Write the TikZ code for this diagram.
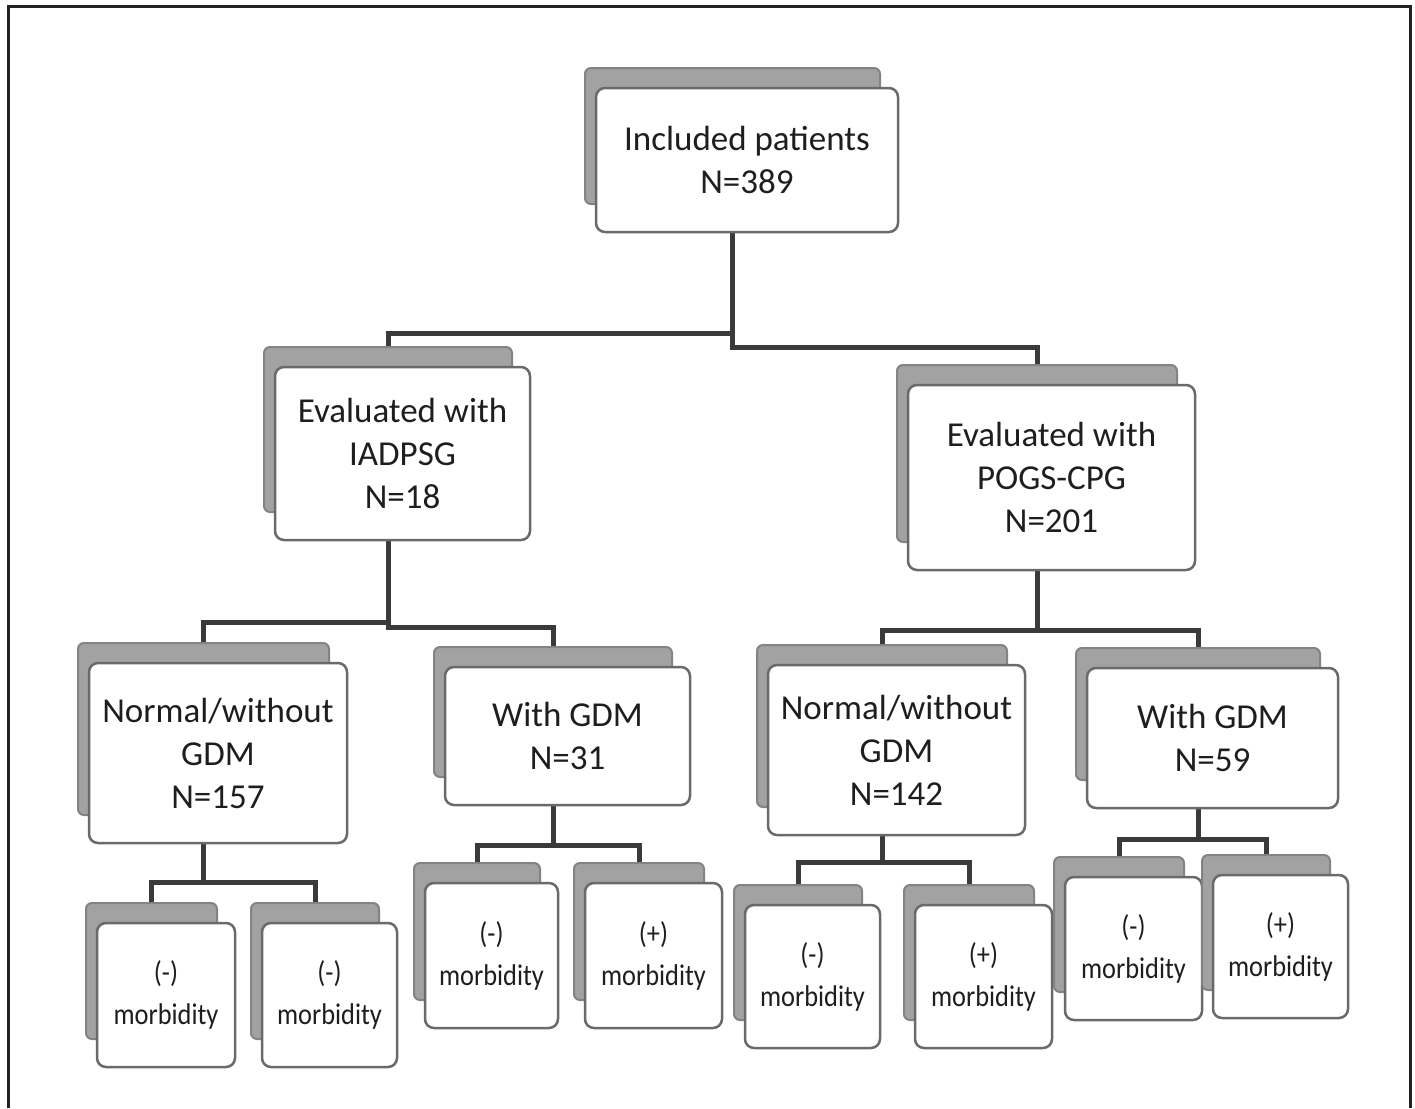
\documentclass[tikz,border=0pt]{standalone}
\usepackage{fontspec}
\setmainfont{Carlito}
\newfontfamily\narrowfont[FakeStretch=0.88]{Carlito}
\pgfdeclarelayer{bg}
\pgfsetlayers{bg,main}
\definecolor{conncol}{HTML}{3A3A3A}
\definecolor{shadefill}{HTML}{A2A2A2}
\definecolor{shadedraw}{HTML}{838383}
\definecolor{frontdraw}{HTML}{6A6A6A}
\definecolor{txt}{HTML}{1E1E1E}
\definecolor{framecol}{HTML}{222222}
\tikzset{
  shadowbox/.style={fill=shadefill, draw=shadedraw, line width=2pt, rounded corners=6pt, inner sep=0pt, outer sep=0pt},
  frontbox/.style={fill=white, draw=frontdraw, line width=2.5pt, rounded corners=9pt, inner sep=0pt, outer sep=0pt, align=center, text=txt},
  bigtext/.style={font=\fontsize{35}{43}\selectfont},
  smalltext/.style={font=\narrowfont\fontsize{30}{42}\selectfont},
  conn/.style={draw=conncol, line width=5pt, line cap=rect},
  outerframe/.style={draw=framecol, line width=3pt}
}
\newcommand{\stackbox}[7]{%
  \node[shadowbox, anchor=north west, minimum width={#4-#2-7}, minimum height={#5-#3-8}] (s-#1) at ({#2-11},{#3-20}) {};
  \node[frontbox, #7, anchor=north west, minimum width={#4-#2}, minimum height={#5-#3}] (#1) at (#2,#3) {#6};
}
\begin{document}
\begin{tikzpicture}[x=1pt, y=-1pt]
\useasboundingbox (0,0) rectangle (1415,1108);
\draw[outerframe] (8,1108) -- (8,7) -- (1410,7) -- (1410,1108);

\stackbox{top}{596}{88}{898}{232}{Included patients\\N=389}{bigtext}
\stackbox{iad}{275}{367}{530}{540}{Evaluated with\\IADPSG\\N=18}{bigtext}
\stackbox{pogs}{908}{385}{1195}{570}{Evaluated with\\POGS-CPG\\N=201}{bigtext}
\stackbox{nl}{89}{663}{347}{843}{Normal/without\\GDM\\N=157}{bigtext}
\stackbox{gl}{445}{667}{690}{805}{With GDM\\N=31}{bigtext}
\stackbox{nr}{768}{665}{1025}{835}{Normal/without\\GDM\\N=142}{bigtext}
\stackbox{gr}{1087}{668}{1338}{808}{With GDM\\N=59}{bigtext}
\stackbox{ma}{97}{923}{235}{1067}{(-)\\morbidity}{smalltext}
\stackbox{mb}{262}{923}{397}{1067}{(-)\\morbidity}{smalltext}
\stackbox{mc}{425}{883}{558}{1028}{(-)\\morbidity}{smalltext}
\stackbox{md}{585}{883}{722}{1028}{(+)\\morbidity}{smalltext}
\stackbox{me}{745}{905}{880}{1048}{(-)\\morbidity}{smalltext}
\stackbox{mf}{915}{905}{1052}{1048}{(+)\\morbidity}{smalltext}
\stackbox{mg}{1065}{877}{1202}{1020}{(-)\\morbidity}{smalltext}
\stackbox{mh}{1213}{875}{1348}{1018}{(+)\\morbidity}{smalltext}

\coordinate (bar1l) at (0,333);
\coordinate (bar1r) at (0,347);
\coordinate (bar2l) at (0,622);
\coordinate (bar2r) at (0,627);
\coordinate (bar3) at (0,630);
\coordinate (bar4) at (0,882);
\coordinate (bar5) at (0,845);
\coordinate (bar6) at (0,862);
\coordinate (bar7) at (0,839);

\begin{pgfonlayer}{bg}
  % top level
  \draw[conn] (s-top |- top.south) -- (s-top |- bar1r);
  \draw[conn] (s-top |- bar1l) -| (s-iad.north);
  \draw[conn] (s-top |- bar1r) -| (s-pogs.north);
  % IADPSG
  \draw[conn] (s-iad |- iad.south) -- (s-iad |- bar2r);
  \draw[conn] (s-iad |- bar2l) -| (s-nl.north);
  \draw[conn] (s-iad |- bar2r) -| (s-gl.north);
  % POGS-CPG
  \draw[conn] (s-pogs |- pogs.south) -- (s-pogs |- bar3);
  \draw[conn] (s-pogs |- bar3) -| (s-nr.north);
  \draw[conn] (s-pogs |- bar3) -| (s-gr.north);
  % Normal left
  \draw[conn] (s-nl |- nl.south) -- (s-nl |- bar4);
  \draw[conn] (s-nl |- bar4) -| (s-ma.north);
  \draw[conn] (s-nl |- bar4) -| (s-mb.north);
  % With GDM left
  \draw[conn] (s-gl |- gl.south) -- (s-gl |- bar5);
  \draw[conn] (s-gl |- bar5) -| (s-mc.north);
  \draw[conn] (s-gl |- bar5) -| (s-md.north);
  % Normal right
  \draw[conn] (s-nr |- nr.south) -- (s-nr |- bar6);
  \draw[conn] (s-nr |- bar6) -| (s-me.north);
  \draw[conn] (s-nr |- bar6) -| (s-mf.north);
  % With GDM right
  \draw[conn] (s-gr |- gr.south) -- (s-gr |- bar7);
  \draw[conn] (s-gr |- bar7) -| (s-mg.north);
  \draw[conn] (s-gr |- bar7) -| (s-mh.north);
\end{pgfonlayer}
\end{tikzpicture}
\end{document}
